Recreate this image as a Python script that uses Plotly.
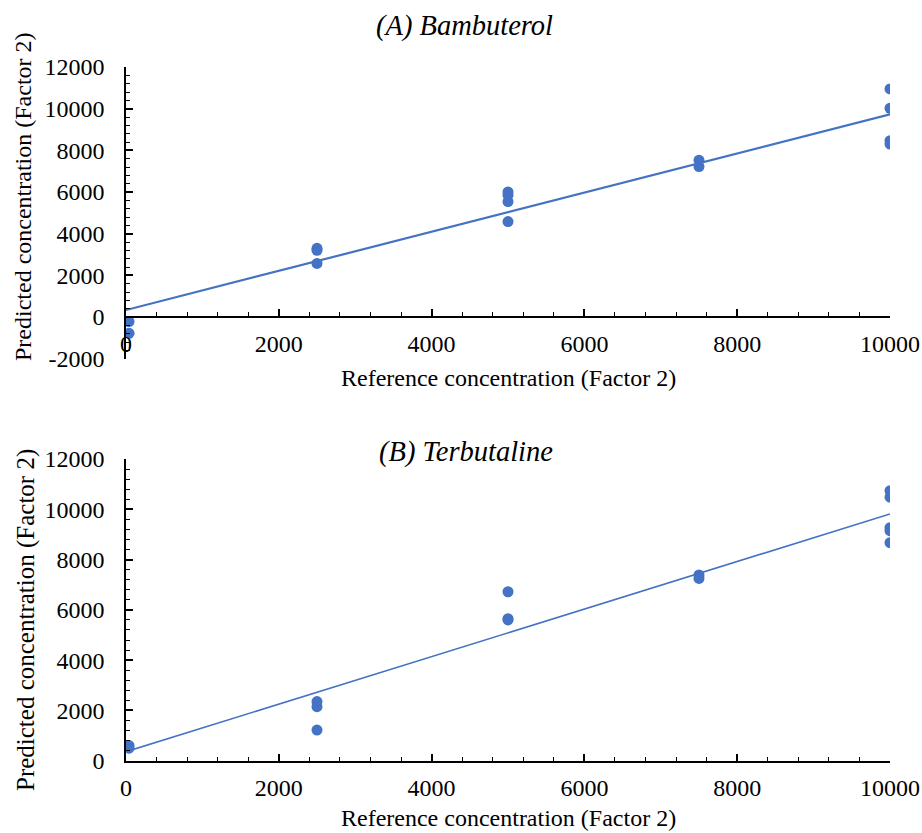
import plotly.graph_objects as go

# ---- Data ----
# (A) Bambuterol
a_ref = [40, 40, 2500, 2500, 2500, 5000, 5000, 5000, 5000, 7500, 7500, 10000, 10000, 10000, 10000]
a_pred = [-220, -780, 3300, 3200, 2570, 6000, 5850, 5540, 4580, 7530, 7220, 10950, 10020, 8460, 8300]
a_fit = [0.9394, 336]   # slope, intercept of the drawn trend line

# (B) Terbutaline
b_ref = [40, 40, 2500, 2500, 2500, 5000, 5000, 5000, 7500, 7500, 10000, 10000, 10000, 10000, 10000]
b_pred = [600, 500, 2350, 2150, 1220, 6720, 5650, 5600, 7390, 7250, 10740, 10480, 9270, 9150, 8670]
b_fit = [0.9455, 358]

fit_x = [0, 10000]

x_ticks = [0, 2000, 4000, 6000, 8000, 10000]
x_ticklabels = ["0", "2000", "4000", "6000", "8000", "10000"]
a_yticks = [-2000, 0, 2000, 4000, 6000, 8000, 10000, 12000]
a_yticklabels = ["-2000", "0", "2000", "4000", "6000", "8000", "10000", "12000"]
b_yticks = [0, 2000, 4000, 6000, 8000, 10000, 12000]
b_yticklabels = ["0", "2000", "4000", "6000", "8000", "10000", "12000"]

x_title = "Reference concentration (Factor 2)"
y_title = "Predicted concentration (Factor 2)"
a_title = "<i>(A) Bambuterol</i>"
b_title = "<i>(B) Terbutaline</i>"

# ---- Figure ----
W, H = 922, 833
BLUE = "#4472C4"
FONT = "Liberation Serif"


def px(p):
    return p / W


def py(p):
    return (H - p) / H


fig = go.Figure()

fig.add_trace(go.Scatter(x=a_ref, y=a_pred, mode="markers", xaxis="x", yaxis="y",
                         marker=dict(color=BLUE, size=11), showlegend=False))
fig.add_trace(go.Scatter(x=fit_x, y=[a_fit[0] * v + a_fit[1] for v in fit_x], mode="lines",
                         xaxis="x", yaxis="y", line=dict(color=BLUE, width=2.2), showlegend=False))
fig.add_trace(go.Scatter(x=b_ref, y=b_pred, mode="markers", xaxis="x2", yaxis="y2",
                         marker=dict(color=BLUE, size=11), showlegend=False))
fig.add_trace(go.Scatter(x=fit_x, y=[b_fit[0] * v + b_fit[1] for v in fit_x], mode="lines",
                         xaxis="x2", yaxis="y2", line=dict(color=BLUE, width=1.6), showlegend=False))

xdom = [px(126), px(890)]
a_ydom = [py(358.7), py(67)]
b_ydom = [py(760.7), py(459)]
a_zero_pos = py(317)

tickfont = dict(family=FONT, size=24, color="black")
common_x = dict(range=[0, 10000], tickvals=x_ticks, ticktext=x_ticklabels, showline=True,
                linecolor="black", linewidth=1.5, ticks="inside", ticklen=7, tickwidth=1.5,
                tickcolor="black", showgrid=False, zeroline=False, tickfont=tickfont,
                automargin=False, ticklabelstandoff=5,
                minor=dict(dtick=400, ticks="inside", ticklen=4, tickwidth=1.2, tickcolor="black"))
common_y = dict(showline=True, linecolor="black", linewidth=1.5, ticks="inside", ticklen=7,
                tickwidth=1.5, tickcolor="black", showgrid=False, zeroline=False,
                tickfont=tickfont, automargin=False, ticklabelstandoff=15,
                minor=dict(dtick=400, ticks="inside", ticklen=4, tickwidth=1.2, tickcolor="black"))

fig.update_layout(
    width=W, height=H,
    margin=dict(l=0, r=0, t=0, b=0),
    paper_bgcolor="white", plot_bgcolor="white",
    font=dict(family=FONT, color="black"),
    xaxis=dict(domain=xdom, anchor="free", position=a_zero_pos, **common_x),
    yaxis=dict(domain=a_ydom, range=[-2000, 12000], tickvals=a_yticks,
               ticktext=a_yticklabels, anchor="x", **common_y),
    xaxis2=dict(domain=xdom, anchor="y2", **common_x),
    yaxis2=dict(domain=b_ydom, range=[0, 12000], tickvals=b_yticks,
                ticktext=b_yticklabels, anchor="x2", **common_y),
)

ann_font = dict(family=FONT, size=24, color="black")
title_font = dict(family=FONT, size=28.5, color="black")
cx = px((126 + 890) / 2)
fig.add_annotation(text=a_title, x=px(464), y=py(26), xref="paper", yref="paper",
                   showarrow=False, font=title_font, xanchor="center", yanchor="middle")
fig.add_annotation(text=b_title, x=px(466), y=py(452), xref="paper", yref="paper",
                   showarrow=False, font=title_font, xanchor="center", yanchor="middle")
fig.add_annotation(text=x_title, x=cx, y=py(378), xref="paper", yref="paper",
                   showarrow=False, font=ann_font, xanchor="center", yanchor="middle")
fig.add_annotation(text=x_title, x=cx, y=py(818), xref="paper", yref="paper",
                   showarrow=False, font=ann_font, xanchor="center", yanchor="middle")
fig.add_annotation(text=y_title, x=px(23), y=py(197), xref="paper", yref="paper",
                   showarrow=False, font=ann_font, textangle=-90, xanchor="center", yanchor="middle")
fig.add_annotation(text=y_title, x=px(26), y=py(620), xref="paper", yref="paper",
                   showarrow=False, font=dict(family=FONT, size=25, color="black"),
                   textangle=-90, xanchor="center", yanchor="middle")

fig.write_html("out.html", config={"displayModeBar": False},
               post_script="document.body.style.margin='0';document.body.style.overflow='hidden';")
